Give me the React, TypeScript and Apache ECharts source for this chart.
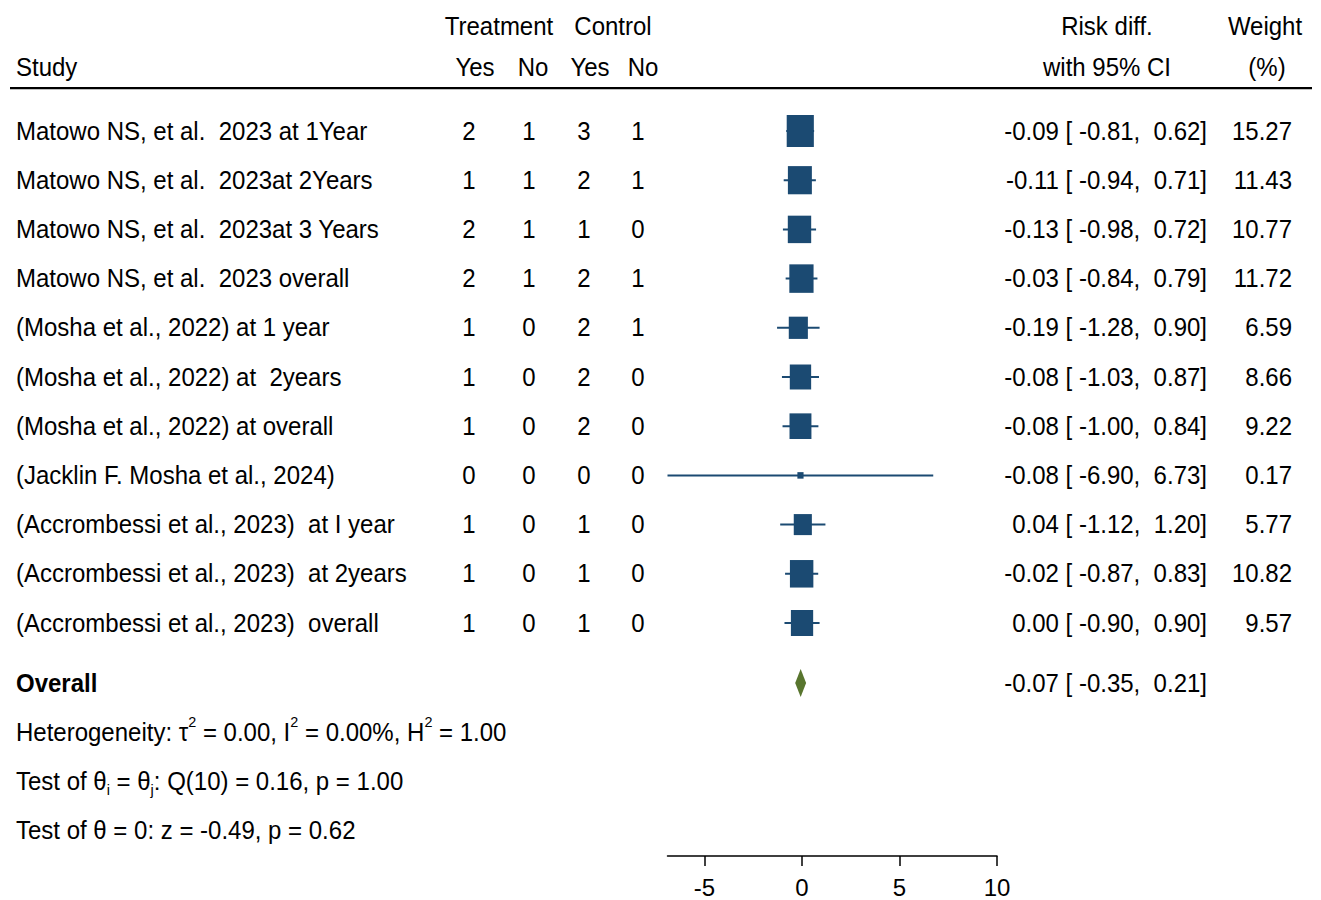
import React, { useEffect, useRef } from "react";
import * as echarts from "echarts";

const studies = [
  "Matowo NS, et al.  2023 at 1Year",
  "Matowo NS, et al.  2023at 2Years",
  "Matowo NS, et al.  2023at 3 Years",
  "Matowo NS, et al.  2023 overall",
  "(Mosha et al., 2022) at 1 year",
  "(Mosha et al., 2022) at  2years",
  "(Mosha et al., 2022) at overall",
  "(Jacklin F. Mosha et al., 2024)",
  "(Accrombessi et al., 2023)  at I year",
  "(Accrombessi et al., 2023)  at 2years",
  "(Accrombessi et al., 2023)  overall",
];
const treatYes = [2, 1, 2, 2, 1, 1, 1, 0, 1, 1, 1];
const treatNo = [1, 1, 1, 1, 0, 0, 0, 0, 0, 0, 0];
const ctrlYes = [3, 2, 1, 2, 2, 2, 2, 0, 1, 1, 1];
const ctrlNo = [1, 1, 0, 1, 1, 0, 0, 0, 0, 0, 0];
const riskDiff = [-0.09, -0.11, -0.13, -0.03, -0.19, -0.08, -0.08, -0.08, 0.04, -0.02, 0.0];
const ciLow = [-0.81, -0.94, -0.98, -0.84, -1.28, -1.03, -1.0, -6.9, -1.12, -0.87, -0.9];
const ciHigh = [0.62, 0.71, 0.72, 0.79, 0.9, 0.87, 0.84, 6.73, 1.2, 0.83, 0.9];
const weights = [15.27, 11.43, 10.77, 11.72, 6.59, 8.66, 9.22, 0.17, 5.77, 10.82, 9.57];

const overallLabel = "Overall";
const overallEst = -0.07;
const overallLow = -0.35;
const overallHigh = 0.21;
const overallRow = 11.22;

const xTicks = [-5, 0, 5, 10];

const FONT = "'Liberation Sans', Arial, sans-serif";
const FS = 25;
const SX = 0.96;
const BLUE = "#1b4a72";
const GREEN = "#58752e";

const f2 = (v: number) => v.toFixed(2);
const ciText = (e: number, l: number, h: number) => `${f2(e)} [ ${f2(l)},  ${f2(h)}]`;

function txt(x: number, y: number, text: string, align: string, extra: any = {}) {
  return {
    type: "text",
    x,
    y,
    scaleX: SX,
    style: {
      text,
      fill: "#000",
      font: `${extra.bold ? "bold " : ""}${FS}px ${FONT}`,
      textAlign: align,
      textVerticalAlign: "middle",
      align,
      verticalAlign: "middle",
    },
  };
}

export default function App() {
  const ref = useRef<HTMLDivElement>(null);
  useEffect(() => {
    if (!ref.current) return;
    const chart = echarts.init(ref.current, undefined, { renderer: "svg" });

    const rows = studies.map((_, i) => [riskDiff[i], i]);

    const option: any = {
      animation: false,
      grid: { left: 667.5, right: 324, top: 81.8, bottom: 44, containLabel: false },
      xAxis: {
        type: "value",
        min: -6.9,
        max: 10,
        position: "bottom",
        splitLine: { show: false },
        axisLine: { show: true, onZero: false, lineStyle: { color: "#000", width: 1.5 } },
        axisTick: { show: true, length: 10, customValues: xTicks, lineStyle: { color: "#000", width: 1.5 } },
        axisLabel: {
          customValues: xTicks,
          color: "#000",
          fontSize: 24,
          fontFamily: FONT,
          margin: 19,
        },
      },
      yAxis: {
        type: "value",
        inverse: true,
        min: -1,
        max: 14.736,
        show: false,
      },
      series: [
        {
          type: "custom",
          coordinateSystem: "cartesian2d",
          data: rows,
          clip: false,
          renderItem: (params: any, api: any) => {
            const i = params.dataIndex;
            const y = api.coord([0, i])[1];
            return {
              type: "group",
              children: [
                txt(16, y, studies[i], "left"),
                txt(469, y, String(treatYes[i]), "center"),
                txt(529, y, String(treatNo[i]), "center"),
                txt(584, y, String(ctrlYes[i]), "center"),
                txt(638, y, String(ctrlNo[i]), "center"),
                txt(1207, y, ciText(riskDiff[i], ciLow[i], ciHigh[i]), "right"),
                txt(1292, y, f2(weights[i]), "right"),
              ],
            };
          },
          z: 5,
        },
        {
          type: "custom",
          coordinateSystem: "cartesian2d",
          data: rows,
          clip: false,
          renderItem: (params: any, api: any) => {
            const i = params.dataIndex;
            const p0 = api.coord([ciLow[i], i]);
            const p1 = api.coord([ciHigh[i], i]);
            const c = api.coord([riskDiff[i], i]);
            const s = Math.sqrt(weights[i]);
            const w = 3.7 + 6 * s;
            const h = 3.5 + 7.3 * s;
            return {
              type: "group",
              children: [
                {
                  type: "line",
                  shape: { x1: p0[0], y1: p0[1], x2: p1[0], y2: p1[1] },
                  style: { stroke: BLUE, lineWidth: 2 },
                },
                {
                  type: "rect",
                  shape: { x: c[0] - w / 2, y: c[1] - h / 2, width: w, height: h },
                  style: { fill: BLUE },
                },
              ],
            };
          },
          z: 3,
        },
        {
          type: "custom",
          coordinateSystem: "cartesian2d",
          data: [[overallEst, overallRow]],
          clip: false,
          renderItem: (params: any, api: any) => {
            const l = api.coord([overallLow, overallRow]);
            const r = api.coord([overallHigh, overallRow]);
            const c = api.coord([overallEst, overallRow]);
            const hh = 14;
            return {
              type: "group",
              children: [
                {
                  type: "polygon",
                  shape: { points: [[l[0], c[1]], [c[0], c[1] - hh], [r[0], c[1]], [c[0], c[1] + hh]] },
                  style: { fill: GREEN },
                },
                txt(16, c[1], overallLabel, "left", { bold: true }),
                txt(1207, c[1], ciText(overallEst, overallLow, overallHigh), "right"),
              ],
            };
          },
          z: 3,
        },
      ],
      graphic: [
        txt(499, 26, "Treatment", "center"),
        txt(613, 26, "Control", "center"),
        txt(16, 67, "Study", "left"),
        txt(475, 67, "Yes", "center"),
        txt(533, 67, "No", "center"),
        txt(590, 67, "Yes", "center"),
        txt(643, 67, "No", "center"),
        txt(1107, 26, "Risk diff.", "center"),
        txt(1107, 67, "with 95% CI", "center"),
        txt(1265, 26, "Weight", "center"),
        txt(1267, 67, "(%)", "center"),
        {
          type: "rect",
          shape: { x: 10, y: 87, width: 1302, height: 2.2 },
          style: { fill: "#000" },
        },
        {
          type: "text",
          x: 16,
          y: 732,
          scaleX: SX,
          style: {
            text: "Heterogeneity: τ{sup|2} = 0.00, I{sup|2} = 0.00%, H{sup|2} = 1.00",
            font: `${FS}px ${FONT}`,
            fill: "#000",
            lineHeight: 36,
            textVerticalAlign: "middle",
            verticalAlign: "middle",
            rich: {
              sup: { fontSize: 15, fontFamily: FONT, lineHeight: 16, verticalAlign: "top", fill: "#000", color: "#000" },
            },
          },
        },
        {
          type: "text",
          x: 16,
          y: 781,
          scaleX: SX,
          style: {
            text: "Test of θ{sub|i} = θ{sub|j}: Q(10) = 0.16, p = 1.00",
            font: `${FS}px ${FONT}`,
            fill: "#000",
            lineHeight: 32,
            textVerticalAlign: "middle",
            verticalAlign: "middle",
            rich: {
              sub: { fontSize: 15, fontFamily: FONT, lineHeight: 16, verticalAlign: "bottom", fill: "#000", color: "#000" },
            },
          },
        },
        txt(16, 830, "Test of θ = 0: z = -0.49, p = 0.62", "left"),
      ],
    };
    chart.setOption(option);
    return () => chart.dispose();
  }, []);
  return (
    <div
      ref={ref}
      style={{ position: "absolute", left: 0, top: 0, width: 1321, height: 900, background: "#fff" }}
    />
  );
}
